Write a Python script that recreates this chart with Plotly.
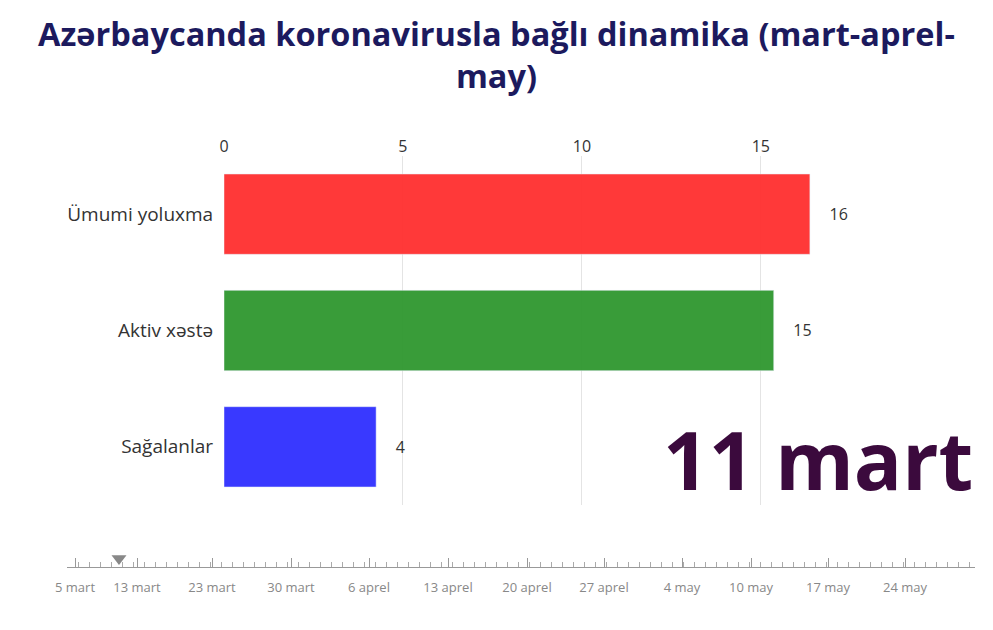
import plotly.graph_objects as go

categories = ["Ümumi yoluxma", "Aktiv xəstə", "Sağalanlar"]
values = [16.37, 15.36, 4.25]
value_labels = ["16", "15", "4"]
colors = ["#ff3333", "#339933", "#3333ff"]

timeline_labels = ["5 mart", "13 mart", "23 mart", "30 mart", "6 aprel", "13 aprel",
                   "20 aprel", "27 aprel", "4 may", "10 may", "17 may", "24 may"]
timeline_pos = [75, 137, 212, 291, 369, 448, 527, 604, 682, 751, 828, 905]
current_pos = 119

fig = go.Figure()
fig.add_trace(go.Bar(
    y=categories, x=values, orientation="h",
    marker=dict(color=colors, opacity=0.97),
    text=["    " + t for t in value_labels], textposition="outside", cliponaxis=False,
    textfont=dict(size=16, color="#333"),
    hoverinfo="skip",
))
# timeline slider marker
fig.add_trace(go.Scatter(
    x=[current_pos], y=[0.5], mode="markers", xaxis="x2", yaxis="y2",
    marker=dict(symbol="triangle-down", size=13, color="#888"),
    cliponaxis=False, hoverinfo="skip",
))

fig.update_layout(
    width=993, height=630,
    margin=dict(l=0, r=0, t=0, b=0),
    paper_bgcolor="white", plot_bgcolor="white",
    showlegend=False,
    bargap=0.31,
    font=dict(family="Open Sans, sans-serif", color="#333"),
    xaxis=dict(domain=[216 / 993, 896 / 993], range=[0, 19], side="top",
               tickvals=[0, 5, 10, 15], showgrid=True, gridcolor="#e4e4e4",
               zeroline=False, tickfont=dict(size=16, color="#333"), anchor="y",
               automargin=False),
    yaxis=dict(domain=[133 / 630, 482 / 630], autorange="reversed",
               tickfont=dict(size=19, color="#333"), ticksuffix="  ", anchor="x",
               automargin=False),
    xaxis2=dict(domain=[59 / 993, 967 / 993], range=[67, 975], anchor="y2",
                tickvals=timeline_pos, ticktext=timeline_labels,
                ticks="inside", ticklen=9, tickcolor="#999",
                minor=dict(ticks="inside", ticklen=5, dtick=11, tick0=67, tickcolor="#aaa"),
                showline=True, linecolor="#999", showgrid=False, zeroline=False,
                ticklabelstandoff=8,
                tickfont=dict(size=13, color="#888"), automargin=False),
    yaxis2=dict(domain=[71 / 630, 88 / 630], range=[0, 1], visible=False, anchor="x2"),
    annotations=[
        dict(text="<b>Azərbaycanda koronavirusla bağlı dinamika (mart-aprel-<br>may)</b>",
             x=488 / 993, y=0.998, xref="paper", yref="paper", xanchor="center", yanchor="top",
             showarrow=False, font=dict(size=32.5, color="#1c1a5e")),
        dict(text="<b>11 mart</b>", x=967 / 993, y=180 / 630, xref="paper", yref="paper",
             xanchor="right", yanchor="middle", showarrow=False,
             font=dict(size=80, color="#3b0a3d")),
    ],
)

fig.write_html("out.html")
